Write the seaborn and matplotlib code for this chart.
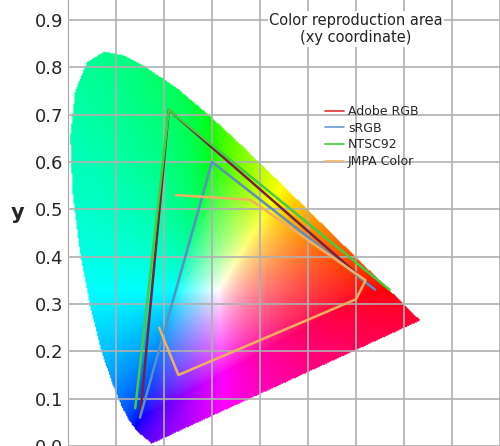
import numpy as np
import matplotlib
matplotlib.use("Agg")
import matplotlib.pyplot as plt
import seaborn as sns
from matplotlib.path import Path

sns.set_style("white")
plt.rcParams['font.family'] = ['DejaVu Sans']

locus_x = [0.1741,0.1440,0.1241,0.1096,0.0913,0.0687,0.0454,0.0235,0.0082,0.0039,0.0139,0.0389,0.0743,0.1142,0.1547,0.2296,0.3016,0.3731,0.4441,0.5125,0.5752,0.6270,0.6915,0.7190,0.7347]
locus_y = [0.0050,0.0297,0.0578,0.0868,0.1327,0.2007,0.2950,0.4127,0.5384,0.6548,0.7502,0.8120,0.8338,0.8262,0.8059,0.7543,0.6923,0.6245,0.5547,0.4866,0.4242,0.3725,0.3083,0.2809,0.2653]

gamut_names = ["Adobe RGB", "sRGB", "NTSC92", "JMPA Color"]
gamut_x = [[0.64,0.21,0.15],[0.64,0.30,0.15],[0.67,0.21,0.14],[0.225,0.38,0.62,0.60,0.23,0.19]]
gamut_y = [[0.33,0.71,0.06],[0.33,0.60,0.06],[0.33,0.71,0.08],[0.53,0.52,0.35,0.31,0.15,0.25]]
draw_colors = ["#7a1f3d", "#5f8fc0", "#3fcf3f", "#f0b060"]
legend_colors = ["#e03030", "#6a9ad0", "#40d040", "#f5b870"]

fig = plt.figure(figsize=(5, 4.46), dpi=100)
ax = fig.add_axes([68/500, 0, 1-68/500, 1])
ax.set_xlim(0, 0.9)
ax.set_ylim(0.003, 0.942)

# chromaticity fill
n = 400
gx, gy = np.meshgrid(np.linspace(0, 0.9, n), np.linspace(0.003, 0.942, n))
gz = 1 - gx - gy
Y = 1.0
X = gx / np.maximum(gy, 1e-4) * Y
Z = gz / np.maximum(gy, 1e-4) * Y
M = np.array([[3.2406,-1.5372,-0.4986],[-0.9689,1.8758,0.0415],[0.0557,-0.2040,1.0570]])
rgb = np.stack([X, np.full_like(X, Y), Z], -1) @ M.T
rgb = rgb - np.minimum(rgb.min(-1, keepdims=True), 0)
rgb = rgb / rgb.max(-1, keepdims=True)
rgb = np.clip(rgb, 0, 1) ** (1/1.5)
poly = Path(np.column_stack([locus_x + [locus_x[0]], locus_y + [locus_y[0]]]))
inside = poly.contains_points(np.column_stack([gx.ravel(), gy.ravel()])).reshape(gx.shape)
img = np.ones(gx.shape + (4,))
img[..., :3] = rgb
img[..., 3] = inside.astype(float)
ax.imshow(img, origin="lower", extent=[0, 0.9, 0.003, 0.942], aspect="auto", zorder=1, interpolation="bilinear")

ax.set_xticks(np.arange(0, 0.91, 0.1))
ax.set_yticks(np.arange(0, 0.91, 0.1))
ax.grid(True, color="#b0b0b0", lw=1.2, zorder=2)
ax.set_axisbelow(False)
ax.set_yticklabels([f"{v:.1f}" for v in np.arange(0, 0.91, 0.1)], fontsize=13)
ax.set_xticklabels([])
ax.tick_params(length=0)
for s in ax.spines.values():
    s.set_visible(False)
ax.spines['left'].set_visible(True)
ax.spines['left'].set_color("#888888")
ax.set_ylabel("y", fontsize=15, rotation=0, labelpad=12, fontweight="bold")

for nm, xs, ys, c, lc in zip(gamut_names, gamut_x, gamut_y, draw_colors, legend_colors):
    sns.lineplot(x=xs + [xs[0]], y=ys + [ys[0]], sort=False, color=c, lw=1.8, ax=ax, zorder=3)
    ax.plot([], [], color=lc, lw=1.2, label=nm)

ax.legend(loc="upper left", bbox_to_anchor=(0.57, 0.79), frameon=False, fontsize=9,
          handlelength=1.5, handletextpad=0.3, labelspacing=0.3)
ax.text(0.6, 0.915, "Color reproduction area\n(xy coordinate)", ha="center", va="top",
        fontsize=10.5, color="#222222", linespacing=1.2, zorder=5,
        bbox=dict(facecolor="white", edgecolor="none", pad=1))
fig.savefig("out.png", dpi=100)
